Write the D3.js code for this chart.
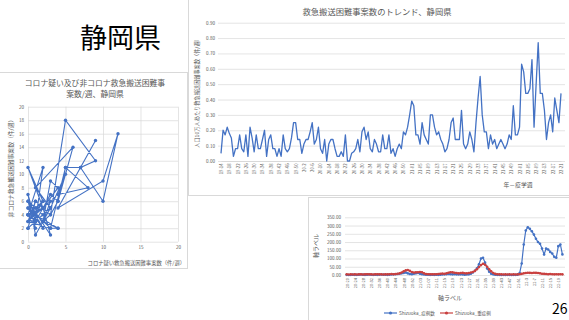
<!DOCTYPE html>
<html lang="ja">
  <head>
    <meta charset="utf-8">
    <title>静岡県</title>
    <script src="https://d3js.org/d3.v7.min.js"></script>
    <style>
      body { margin: 0; background: #fff; }
      text { font-family: "Noto Sans CJK JP", "Noto Sans", sans-serif; }
    </style>
  </head>
  <body>
  <script>

// ---- data ----

// top chart: per 100k population, weekly, 19-14 .. 22-21
var trendTicks = ["19-14","19-18","19-22","19-26","19-30","19-34","19-38","19-42","19-46","19-50",
  "20-2","20-6","20-10","20-14","20-18","20-22","20-26","20-30","20-34","20-38","20-42","20-46","20-50",
  "21-01","21-05","21-09","21-13","21-17","21-21","21-25","21-29","21-33","21-37","21-41","21-45","21-49",
  "22-01","22-05","22-09","22-13","22-17","22-21"];
var trendValues = [
  .05,.20,.17,.22,.18,.15,.03,.08,.08,.17,.08,.06,.17,.03,.22,.15,.06,.17,.08,.08,
  .14,.20,.03,.14,.17,.08,.08,.03,.08,.03,.17,.08,.06,.08,.15,.25,.25,.14,.14,.05,
  .11,.14,.14,.19,.25,.11,.14,.22,.08,.05,.14,0,.11,.14,.14,.08,.03,.03,.06,.03,
  .17,0,0,.05,.06,.08,.14,.06,.19,.22,.14,.19,.08,.06,.14,.11,.06,.06,.17,.08,
  .08,.17,.05,.08,.03,.08,.11,.08,.19,.17,.22,.30,.39,.36,.17,.17,.11,.25,.17,.14,
  .11,.30,.30,.22,.17,.19,.14,.11,.06,.08,.14,.25,.28,.14,.14,.14,.33,.11,.08,.11,
  .19,.14,.06,.25,.41,.55,.30,.19,.19,.08,.17,.11,.14,.08,.11,.14,.11,.08,.11,.17,
  .14,.36,.17,.17,.22,.63,.58,.44,.44,.47,.66,.22,.50,.77,.44,.44,.33,.14,.25,.30,
  .19,.41,.33,.25,.44];
var trendYTicks = [0,0.1,0.2,0.3,0.4,0.5,0.6,0.7,0.8,0.9];

// scatter: corona-suspected vs non-corona, per week
var coronaSuspected = [0,1,0,2,1,0,1,0,2,1,0,1,0,2,1,0,1,2,0,1,3,0,2,1,0,2,1,0,1,3,2,4,1,0,3,2,0,2,1,3,
  2,3,4,2,3,4,5,8,4,5,3,1,6,4,3,5,9,7,9,4,10,12,10,7,5,3,4,2,3,1,0];
var nonCorona = [4,3,5,2,4,3,6,2,4,5,6,2,4,5,3,7,1,3,5,4,2,3,6,5,4,11,3,2,6,4,3,2,4,6,1,5,11,6,4,6,
  3,9,8,5,7,6,11,8,7,10,5,8,14,6,4,18,12,11,15,5,9,16,6,11,11,2,2,3,5,3,4];
var scatterTicks = [0,2,4,6,8,10,12,14,16,18,20];
var scatterXTicks = [0,5,10,15,20];

// bottom chart: weekly cases / severe cases, 20-20 .. 22-21
var caseTicks = ["20-20","20-24","20-28","20-32","20-36","20-40","20-44","20-48","20-52","21-03","21-07",
  "21-11","21-15","21-19","21-23","21-27","21-31","21-35","21-39","21-43","21-47","21-51","22-3","22-7",
  "22-11","22-15","22-19"];
var cases = [1,0,1,2,1,1,2,3,2,1,2,3,2,1,2,1,2,3,2,2,1,2,3,4,5,6,8,10,
  12,15,10,6,5,8,10,12,8,5,3,2,2,1,2,1,2,1,2,3,4,5,6,5,4,5,4,3,4,3,2,3,4,8,15,25,40,65,100,105,75,40,
  20,8,4,2,1,1,0,1,0,1,1,0,1,1,2,12,70,185,270,290,280,265,245,220,200,190,160,125,160,155,140,130,
  110,105,175,185,125];
var severe = [4,3,4,3,4,3,4,4,3,4,5,4,4,3,4,5,4,4,3,4,4,5,6,5,6,8,
  10,15,22,28,30,25,18,15,16,17,18,17,10,6,5,5,4,5,5,6,8,9,8,10,14,17,16,14,12,10,12,13,11,10,12,15,
  18,25,35,48,60,68,62,50,35,22,12,7,5,4,4,3,4,3,4,3,4,3,4,5,7,10,12,14,13,12,14,13,12,10,8,7,6,5,6,
  5,4,5,4,5,4];
var caseYTicks = [0,50,100,150,200,250,300,350];

// ---- drawing ----

var w = 569, h = 320;
var grid = "#d9d9d9", ink = "#595959", blue = "#4472c4", red = "#c9403f";

var svg = d3.select("body").append("svg")
    .attr("width", w)
    .attr("height", h);

// panel frames
svg.append("rect").attr("x", -1).attr("y", 72.5).attr("width", 188.5).attr("height", 196)
    .attr("fill", "none").attr("stroke", grid);
svg.append("rect").attr("x", 188.5).attr("y", -1).attr("width", 382).attr("height", 196.5)
    .attr("fill", "none").attr("stroke", grid);
svg.append("rect").attr("x", 308.5).attr("y", 197.5).attr("width", 262).attr("height", 124)
    .attr("fill", "none").attr("stroke", grid);

svg.append("text").attr("x", 80).attr("y", 48).attr("font-size", 27).attr("fill", "#000")
    .text("静岡県");

svg.append("text").attr("x", 552).attr("y", 314).attr("font-size", 14).attr("fill", "#000")
    .text("26");

// -- top right trend chart --
var tx = d3.scaleLinear().domain([0, trendValues.length - 1]).range([221, 561]);
var ty = d3.scaleLinear().domain([0, 0.9]).range([161, 22.7]);

var trend = svg.append("g");
trend.append("g")
    .attr("transform", "translate(218,0)")
    .call(d3.axisLeft(ty).tickValues(trendYTicks).tickSize(-347).tickPadding(3).tickFormat(d3.format(".2f")))
    .call(g => g.select(".domain").remove())
    .call(g => g.selectAll("line").attr("stroke", grid).attr("stroke-width", 0.7))
    .call(g => g.selectAll("text").attr("fill", ink).attr("font-size", 4.6));

trend.append("g")
    .attr("transform", "translate(0,161)")
    .call(d3.axisBottom(tx).tickValues(d3.range(0, trendValues.length, 4)).tickSize(0)
      .tickFormat((d, i) => trendTicks[i]))
    .call(g => g.select(".domain").attr("stroke", grid))
    .call(g => g.selectAll("text")
      .attr("fill", ink).attr("font-size", 4.2)
      .attr("x", -2.5).attr("y", 0).attr("dy", "0.35em")
      .attr("transform", "rotate(-90)")
      .style("text-anchor", "end"));

trend.append("path")
    .datum(trendValues)
    .attr("fill", "none")
    .attr("stroke", blue)
    .attr("stroke-width", 1.3)
    .attr("stroke-linejoin", "round")
    .attr("d", d3.line().x((d, i) => tx(i)).y(d => ty(d)));

trend.append("text").attr("x", 377).attr("y", 15).attr("text-anchor", "middle")
    .attr("font-size", 8.3).attr("fill", ink).text("救急搬送困難事案数のトレンド、静岡県");
trend.append("text").attr("transform", "translate(199,92) rotate(-90)").attr("text-anchor", "middle")
    .attr("font-size", 5.2).attr("fill", ink).text("人口10万人あたり救急搬送困難事案数（件/週）");
trend.append("text").attr("x", 518).attr("y", 187).attr("text-anchor", "middle")
    .attr("font-size", 5.8).attr("fill", ink).text("年－疫学週");

// -- left scatter chart --
var sx = d3.scaleLinear().domain([0, 20]).range([28, 178]);
var sy = d3.scaleLinear().domain([0, 20]).range([241.7, 106.7]);

var sc = svg.append("g");
sc.append("g")
    .attr("transform", "translate(28,0)")
    .call(d3.axisLeft(sy).tickValues(scatterTicks).tickSize(-150).tickPadding(4))
    .call(g => g.select(".domain").remove())
    .call(g => g.selectAll("line").attr("stroke", grid).attr("stroke-width", 0.7))
    .call(g => g.selectAll("text").attr("fill", ink).attr("font-size", 4.6));
sc.append("g")
    .attr("transform", "translate(0,241.7)")
    .call(d3.axisBottom(sx).tickValues(scatterXTicks).tickSize(-135).tickPadding(4))
    .call(g => g.select(".domain").remove())
    .call(g => g.selectAll("line").attr("stroke", grid).attr("stroke-width", 0.7))
    .call(g => g.selectAll("text").attr("fill", ink).attr("font-size", 4.6));

var pts = coronaSuspected.map((d, i) => [d, nonCorona[i]]);
sc.append("path")
    .datum(pts)
    .attr("fill", "none")
    .attr("stroke", blue)
    .attr("stroke-width", 1.1)
    .attr("d", d3.line().x(d => sx(d[0])).y(d => sy(d[1])));
sc.selectAll("circle")
    .data(pts)
  .enter().append("circle")
    .attr("cx", d => sx(d[0]))
    .attr("cy", d => sy(d[1]))
    .attr("r", 1.7)
    .attr("fill", blue);

sc.append("text").attr("x", 95).attr("y", 86).attr("text-anchor", "middle")
    .attr("font-size", 7.8).attr("fill", ink).text("コロナ疑い及び非コロナ救急搬送困難事");
sc.append("text").attr("x", 95).attr("y", 97).attr("text-anchor", "middle")
    .attr("font-size", 7.8).attr("fill", ink).text("案数/週、静岡県");
sc.append("text").attr("transform", "translate(13,167) rotate(-90)").attr("text-anchor", "middle")
    .attr("font-size", 5.8).attr("fill", ink).text("非コロナ救急搬送困難事案数（件/週）");
sc.append("text").attr("x", 185).attr("y", 265).attr("text-anchor", "end")
    .attr("font-size", 5.3).attr("fill", ink).text("コロナ疑い救急搬送困難事案数（件/週）");

// -- bottom right cases chart --
var bx = d3.scaleLinear().domain([0, cases.length - 1]).range([346.7, 562.4]);
var by = d3.scaleLinear().domain([0, 350]).range([275, 217.3]);

var bt = svg.append("g");
bt.append("g")
    .attr("transform", "translate(345,0)")
    .call(d3.axisLeft(by).tickValues(caseYTicks).tickSize(-220).tickPadding(4).tickFormat(d3.format(".2f")))
    .call(g => g.select(".domain").remove())
    .call(g => g.selectAll("line").attr("stroke", grid).attr("stroke-width", 0.7))
    .call(g => g.selectAll("text").attr("fill", ink).attr("font-size", 4.6));
bt.append("g")
    .attr("transform", "translate(0,276)")
    .call(d3.axisBottom(bx).tickValues(d3.range(0, cases.length - 2, 4)).tickSize(0)
      .tickFormat((d, i) => caseTicks[i]))
    .call(g => g.select(".domain").remove())
    .call(g => g.selectAll("text")
      .attr("fill", ink).attr("font-size", 4)
      .attr("x", -2).attr("y", 0).attr("dy", "0.35em")
      .attr("transform", "rotate(-90)")
      .style("text-anchor", "end"));

[[cases, blue], [severe, red]].forEach(function(s) {
  var g = bt.append("g");
  g.append("path")
      .datum(s[0])
      .attr("fill", "none")
      .attr("stroke", s[1])
      .attr("stroke-width", 1.2)
      .attr("d", d3.line().x((d, i) => bx(i)).y(d => by(d)));
  g.selectAll("circle")
      .data(s[0])
    .enter().append("circle")
      .attr("cx", (d, i) => bx(i))
      .attr("cy", d => by(d))
      .attr("r", 1.3)
      .attr("fill", s[1]);
});

bt.append("text").attr("transform", "translate(318,246) rotate(-90)").attr("text-anchor", "middle")
    .attr("font-size", 6).attr("fill", ink).text("軸ラベル");
bt.append("text").attr("x", 450).attr("y", 300).attr("text-anchor", "middle")
    .attr("font-size", 6).attr("fill", ink).text("軸ラベル");

// legend
var legend = [["Shizuoka_症例数", blue, 384], ["Shizuoka_重症例", red, 440]];
legend.forEach(function(l) {
  var g = bt.append("g").attr("transform", "translate(" + l[2] + ",313)");
  g.append("line").attr("x1", 0).attr("x2", 13).attr("stroke", l[1]).attr("stroke-width", 1.2);
  g.append("circle").attr("cx", 6.5).attr("r", 1.6).attr("fill", l[1]);
  g.append("text").attr("x", 15).attr("dy", "0.35em").attr("font-size", 4.6).attr("fill", ink).text(l[0]);
});

  </script>
  </body>
</html>
